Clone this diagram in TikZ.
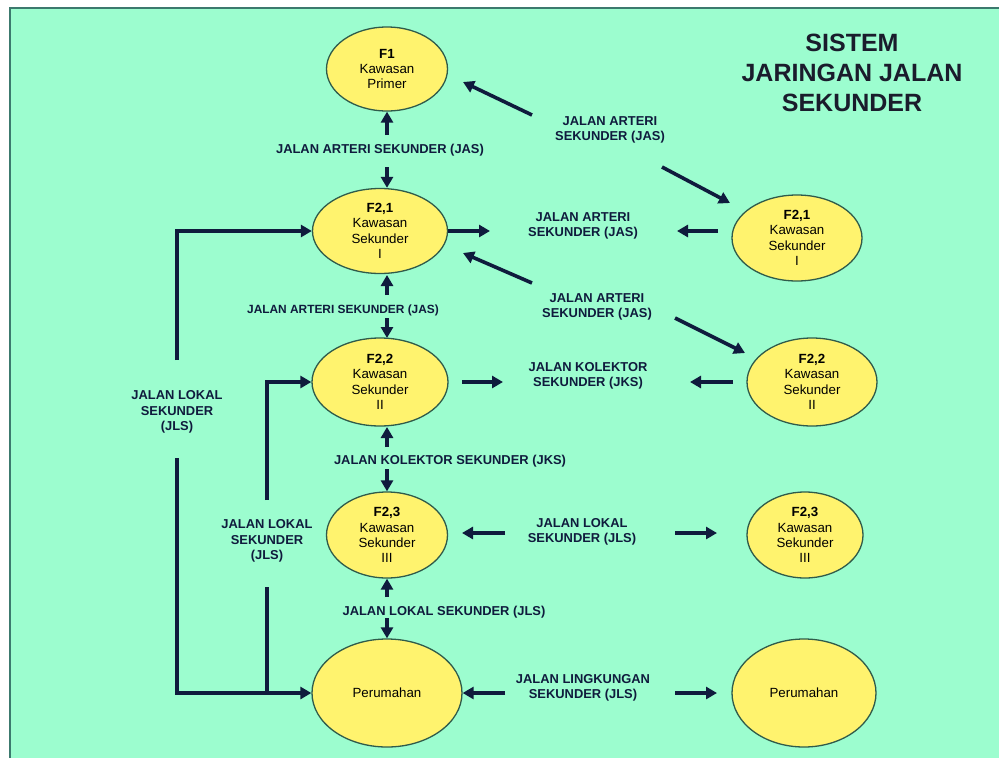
\documentclass[tikz,border=0pt]{standalone}
\usepackage{fontspec}
\setmainfont{Liberation Sans}
\usetikzlibrary{shapes.geometric,arrows.meta}
\definecolor{bg}{HTML}{9CFDCF}
\definecolor{nodefill}{HTML}{FFF36E}
\definecolor{ink}{HTML}{0F1B3D}
\definecolor{titleink}{HTML}{1A1C2C}
\definecolor{edge}{HTML}{2F5B4A}
\definecolor{framec}{HTML}{3C7A6E}
\begin{document}
\begin{tikzpicture}[x=1pt,y=-1pt,
  zone/.style={ellipse, draw=edge, line width=1.3pt, fill=nodefill, inner sep=0pt, align=center,
    font=\fontsize{13.3}{15.3}\selectfont, text=black},
  lbl/.style={align=center, font=\bfseries\fontsize{12.9}{15.5}\selectfont, text=ink, inner sep=1pt},
  arr/.style={draw=ink, line width=3.6pt, -{Triangle[length=11pt,width=12pt]}},
  link/.style={draw=ink, line width=3.2pt},
]
\fill[white] (0,0) rectangle (999,758);
\useasboundingbox (0,0) rectangle (999,758);
\fill[bg] (10,8) rectangle (999,758);
\draw[framec, line width=2pt] (10,758) -- (10,8) -- (999,8);

% title
\node[align=center, text=titleink, font=\bfseries\fontsize{25}{30}\selectfont] (title) at (852,73) {SISTEM\\JARINGAN JALAN\\SEKUNDER};

% nodes left column
\node[zone, minimum width=121pt, minimum height=84pt] (f1) at (387,69) {\textbf{F1}\\Kawasan\\Primer};
\node[zone, minimum width=135pt, minimum height=85pt] (f21l) at (380,231) {\textbf{F2,1}\\Kawasan\\Sekunder\\I};
\node[zone, minimum width=136pt, minimum height=88pt] (f22l) at (380,382) {\textbf{F2,2}\\Kawasan\\Sekunder\\II};
\node[zone, minimum width=121pt, minimum height=86pt] (f23l) at (387,535) {\textbf{F2,3}\\Kawasan\\Sekunder\\III};
\node[zone, minimum width=150pt, minimum height=108pt] (perl) at (387,693) {Perumahan};
% nodes right column
\node[zone, minimum width=130pt, minimum height=86pt] (f21r) at (797,238) {\textbf{F2,1}\\Kawasan\\Sekunder\\I};
\node[zone, minimum width=130pt, minimum height=88pt] (f22r) at (812,382) {\textbf{F2,2}\\Kawasan\\Sekunder\\II};
\node[zone, minimum width=116pt, minimum height=86pt] (f23r) at (805,535) {\textbf{F2,3}\\Kawasan\\Sekunder\\III};
\node[zone, minimum width=144pt, minimum height=108pt] (perr) at (804,693) {Perumahan};

% labels
\node[lbl] (lab1) at (380,150) {JALAN ARTERI SEKUNDER (JAS)};
\node[lbl] (lab2) at (610,130) {JALAN ARTERI\\SEKUNDER (JAS)};
\node[lbl] (lab3) at (583,226) {JALAN ARTERI\\SEKUNDER (JAS)};
\node[lbl] (lab4) at (597,307) {JALAN ARTERI\\SEKUNDER (JAS)};
\node[lbl, font=\bfseries\fontsize{11.9}{14}\selectfont] (lab5) at (343,310) {JALAN ARTERI SEKUNDER (JAS)};
\node[lbl] (lab6) at (588,376) {JALAN KOLEKTOR\\SEKUNDER (JKS)};
\node[lbl] (lab7) at (450,461) {JALAN KOLEKTOR SEKUNDER (JKS)};
\node[lbl] (lab8) at (582,532) {JALAN LOKAL\\SEKUNDER (JLS)};
\node[lbl] (lab9) at (444,612) {JALAN LOKAL SEKUNDER (JLS)};
\node[lbl] (lab10) at (583,688) {JALAN LINGKUNGAN\\SEKUNDER (JLS)};
\node[lbl] (lab11) at (177,412) {JALAN LOKAL\\SEKUNDER\\(JLS)};
\node[lbl] (lab12) at (267,541) {JALAN LOKAL\\SEKUNDER\\(JLS)};

% vertical arrows
\coordinate (v1a) at (387,135);
\coordinate (v1b) at (387,167);
\draw[arr] (v1a) -- (v1a |- f1.south);
\draw[arr] (v1b) -- (v1b |- f21l.north);
\coordinate (v2a) at (387,295);
\coordinate (v2b) at (387,318);
\draw[arr] (v2a) -- (387,275);
\draw[arr] (v2b) -- (387,338);
\coordinate (v3a) at (387,447);
\coordinate (v3b) at (387,469);
\draw[arr] (v3a) -- (387,427);
\draw[arr] (v3b) -- (v3b |- f23l.north);
\coordinate (v4a) at (387,597);
\coordinate (v4b) at (387,618);
\draw[arr] (v4a) -- (v4a |- f23l.south);
\draw[arr] (v4b) -- (v4b |- perl.north);

% diagonal arrows
\coordinate (d1a) at (532,115); \coordinate (d1b) at (463,82);
\draw[arr] (d1a) -- (d1b);
\coordinate (d2a) at (662,167); \coordinate (d2b) at (730,203);
\draw[arr] (d2a) -- (d2b);
\coordinate (d3a) at (532,283); \coordinate (d3b) at (463,253);
\draw[arr] (d3a) -- (d3b);
\coordinate (d4a) at (675,318); \coordinate (d4b) at (745,353);
\draw[arr] (d4a) -- (d4b);

% horizontal arrows
\coordinate (h1) at (490,231);
\draw[arr] (f21l) -- (h1);
\coordinate (h2a) at (718,231); \coordinate (h2b) at (677,231);
\draw[arr] (h2a) -- (h2b);
\coordinate (h3a) at (462,382); \coordinate (h3b) at (503,382);
\draw[arr] (h3a) -- (h3b);
\coordinate (h4a) at (733,382); \coordinate (h4b) at (690,382);
\draw[arr] (h4a) -- (h4b);
\coordinate (h5a) at (505,533); \coordinate (h5b) at (462,533);
\draw[arr] (h5a) -- (h5b);
\coordinate (h6a) at (675,533); \coordinate (h6b) at (717,533);
\draw[arr] (h6a) -- (h6b);
\coordinate (h7a) at (505,693);
\draw[arr] (h7a) -- (perl);
\coordinate (h8a) at (675,693); \coordinate (h8b) at (717,693);
\draw[arr] (h8a) -- (h8b);

% left loops
\coordinate (o1) at (177,360);
\coordinate (o2) at (177,458);
\draw[arr, line width=3.2pt] (o1) |- (f21l.west);
\draw[arr, line width=3.2pt] (o2) |- (perl.west);
\coordinate (i1) at (267,500);
\coordinate (i2) at (267,587);
\draw[arr, line width=3.2pt] (i1) |- (f22l.west);
\draw[link] (i2) -- (i2 |- perl.west);
\end{tikzpicture}
\end{document}
